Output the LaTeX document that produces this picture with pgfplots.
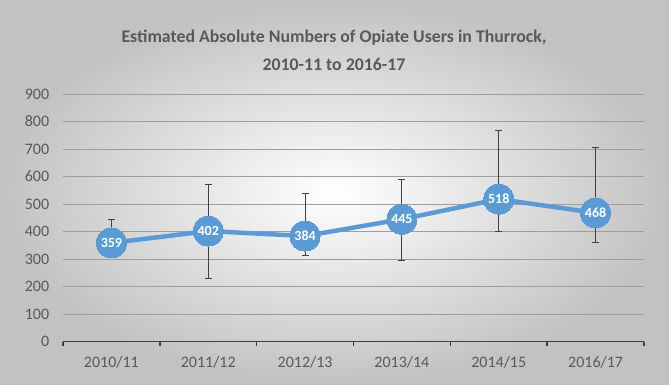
\documentclass[border=0pt]{standalone}
\usepackage{pgfplots}
\pgfplotsset{compat=1.18}
\usepackage{pgfplotstable}
\usepackage{fontspec}
\setmainfont{Carlito}
\definecolor{linec}{HTML}{5B9BD5}
\definecolor{txt}{HTML}{595959}
\definecolor{errc}{HTML}{404040}
\pgfplotstableread{
x y ep em
0 359 86 39
1 402 170 172
2 384 153 70
3 445 144 151
4 518 249 118
5 468 236 107
}\data
\begin{document}
\begin{tikzpicture}[x=1pt,y=1pt]
\shade[inner color=white, outer color=black!24] (0,0) rectangle (669,385);
\node[font=\fontsize{17.8}{28}\selectfont\bfseries, text=txt, align=center] at (334,335) {Estimated Absolute Numbers of Opiate Users in Thurrock,\\2010-11 to 2016-17};
\begin{axis}[
  at={(63pt,43.3pt)}, anchor=south west,
  scale only axis, width=581pt, height=247.7pt,
  xmin=-0.5, xmax=5.5, ymin=0, ymax=900,
  ytick={0,100,...,900},
  xtick={0,1,2,3,4,5},
  xticklabels={2010/11,2011/12,2012/13,2013/14,2014/15,2016/17},
  minor xtick={-0.5,0.5,1.5,2.5,3.5,4.5,5.5},
  axis x line*=bottom, axis y line*=left,
  y axis line style={draw=none},
  x axis line style={line width=1.6pt, color=errc, -},
  ytick style={draw=none},
  major x tick style={draw=none},
  minor x tick style={line width=1.4pt, color=errc},
  minor tick length=4pt,
  tick align=outside,
  ymajorgrids, grid style={black!38, line width=0.8pt},
  tick label style={font=\fontsize{16}{18}\selectfont, text=txt},
  xticklabel style={yshift=-7pt},
  yticklabel style={xshift=-6pt},
  /pgf/number format/assume math mode=true,
  clip=false,
]
\addplot[draw=none, mark=none, forget plot,
  error bars/.cd, y dir=both, y explicit,
  error bar style={line width=1.1pt, color=errc},
  error mark options={rotate=90, mark size=3.5pt, line width=1.1pt, color=errc}]
  table[x=x, y=y, y error plus=ep, y error minus=em] {\data};
\addplot[color=linec, line width=4.5pt, mark=*, mark size=15pt,
  mark options={fill=linec, draw=linec, line width=0pt},
  nodes near coords, point meta=explicit,
  every node near coord/.append style={anchor=center, text=white, font=\fontsize{14}{16}\selectfont\bfseries}]
  table[x=x, y=y, meta=y] {\data};
\end{axis}
\end{tikzpicture}
\end{document}
